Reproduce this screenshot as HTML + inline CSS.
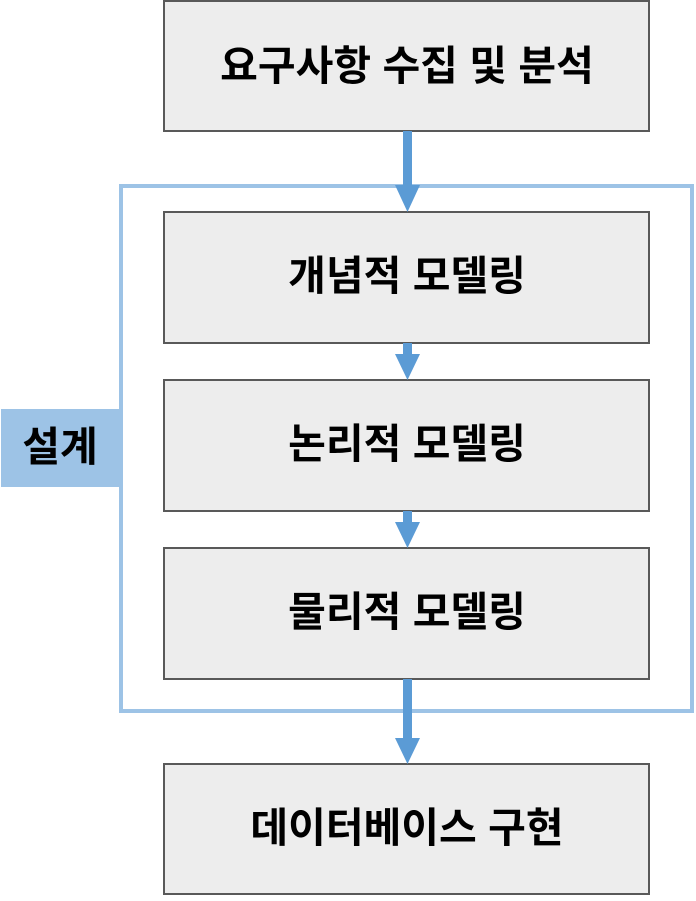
<!DOCTYPE html>
<html><head><meta charset="utf-8"><style>
body{margin:0;background:#fff;}
svg text{font-family:"Liberation Sans","Noto Sans CJK KR",sans-serif;font-weight:bold;fill:#000;text-anchor:middle;dominant-baseline:central;}
</style></head><body>
<svg width="696" height="896" viewBox="0 0 696 896" xmlns="http://www.w3.org/2000/svg">
<rect x="121" y="186" width="571" height="525" fill="none" stroke="#9dc3e6" stroke-width="4"/>
<rect x="1" y="409" width="121" height="78" fill="#9dc3e6"/>
<text x="60" y="447" font-size="41">설계</text>
<g fill="#ededed" stroke="#595959" stroke-width="2">
<rect x="164" y="1" width="485" height="130"/>
<rect x="164" y="212" width="485" height="131"/>
<rect x="164" y="380" width="485" height="131"/>
<rect x="164" y="548" width="485" height="131"/>
<rect x="164" y="764" width="485" height="130"/>
</g>
<g fill="#5b9bd5">
<rect x="403" y="131" width="9" height="55"/><polygon points="395,185 420,185 407.5,212"/>
<rect x="403" y="343" width="9" height="12"/><polygon points="395,354 420,354 407.5,380"/>
<rect x="403" y="511" width="9" height="12"/><polygon points="395,522 420,522 407.5,548"/>
<rect x="403" y="679" width="9" height="60"/><polygon points="395,738 420,738 407.5,764"/>
</g>
<text x="407" y="66" font-size="41">요구사항 수집 및 분석</text>
<text x="407" y="276" font-size="41">개념적 모델링</text>
<text x="407" y="444" font-size="41">논리적 모델링</text>
<text x="407" y="612" font-size="41">물리적 모델링</text>
<text x="407" y="828" font-size="41">데이터베이스 구현</text>
</svg>
</body></html>
